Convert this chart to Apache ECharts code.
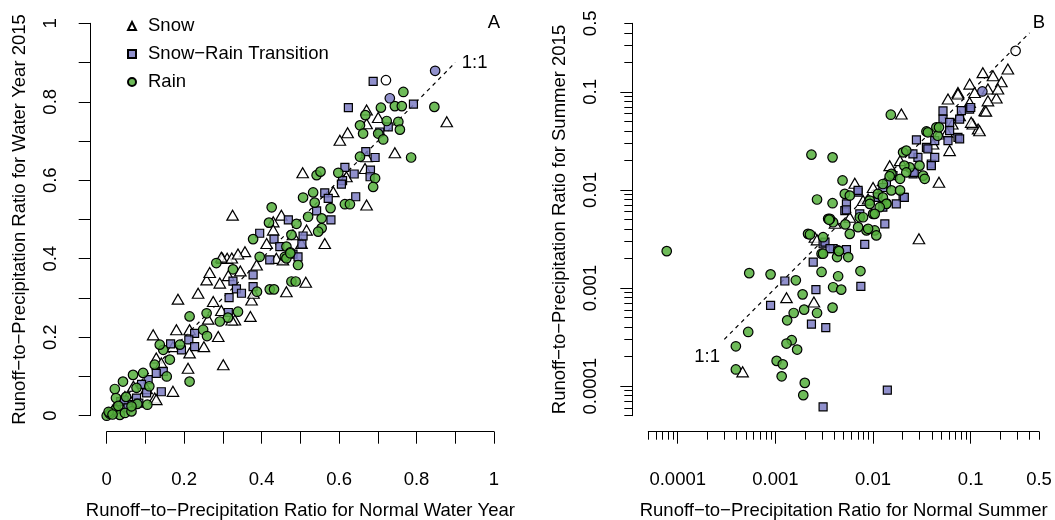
<!DOCTYPE html>
<html>
<head>
<meta charset="utf-8">
<script src="https://cdn.jsdelivr.net/npm/echarts@6/dist/echarts.min.js"></script>
<style>html,body{margin:0;padding:0;background:#fff}#c{width:1055px;height:520px}</style>
</head>
<body>
<div id="c"></div>
<script>
// ---------- Panel A: water year (linear axes) ----------
const snowA = [[0.878,0.749],[0.744,0.670],[0.671,0.779],[0.701,0.760],[0.622,0.721],[0.602,0.702],[0.671,0.537],[0.506,0.619],[0.667,0.630],[0.671,0.660],[0.619,0.609],[0.585,0.571],[0.563,0.439],[0.325,0.511],[0.430,0.494],[0.451,0.511],[0.430,0.473],[0.516,0.473],[0.413,0.439],[0.357,0.418],[0.671,0.744],[0.503,0.439],[0.481,0.461],[0.299,0.401],[0.311,0.401],[0.514,0.340],[0.464,0.316],[0.374,0.295],[0.371,0.253],[0.331,0.244],[0.301,0.130],[0.288,0.202],[0.251,0.176],[0.210,0.121],[0.214,0.160],[0.184,0.297],[0.236,0.312],[0.258,0.346],[0.266,0.365],[0.292,0.338],[0.314,0.357],[0.275,0.291],[0.296,0.268],[0.323,0.244],[0.120,0.206],[0.180,0.219],[0.171,0.062],[0.124,0.045],[0.296,0.404],[0.323,0.402],[0.339,0.412],[0.438,0.401],[0.455,0.397],[0.387,0.384],[0.345,0.369],[0.379,0.312],[0.262,0.246],[0.214,0.219],[0.171,0.176],[0.047,0.049],[0.069,0.075],[0.103,0.069],[0.128,0.147],[0.141,0.134],[0.128,0.041],[0.055,0.049],[0.020,0.020],[0.035,0.030]];
const transA = [[0.688,0.852],[0.624,0.785],[0.792,0.794],[0.727,0.736],[0.705,0.723],[0.669,0.673],[0.693,0.658],[0.615,0.633],[0.639,0.616],[0.681,0.626],[0.680,0.609],[0.609,0.599],[0.606,0.590],[0.643,0.558],[0.563,0.568],[0.572,0.554],[0.542,0.522],[0.579,0.499],[0.469,0.499],[0.395,0.465],[0.432,0.450],[0.447,0.431],[0.507,0.458],[0.504,0.437],[0.473,0.414],[0.481,0.412],[0.494,0.405],[0.378,0.359],[0.378,0.329],[0.326,0.343],[0.335,0.323],[0.348,0.312],[0.316,0.301],[0.314,0.263],[0.227,0.210],[0.212,0.193],[0.227,0.176],[0.193,0.168],[0.165,0.183],[0.146,0.113],[0.128,0.108],[0.107,0.092],[0.103,0.058],[0.141,0.061],[0.077,0.045],[0.064,0.028],[0.083,0.032],[0.025,0.017],[0.036,0.036],[0.421,0.397],[0.045,0.040],[0.055,0.020],[0.012,0.008],[0.090,0.080]];
const rainA = [[0.766,0.825],[0.846,0.787],[0.708,0.785],[0.744,0.789],[0.762,0.789],[0.668,0.766],[0.654,0.740],[0.662,0.719],[0.723,0.751],[0.753,0.749],[0.757,0.729],[0.701,0.719],[0.714,0.704],[0.786,0.658],[0.654,0.660],[0.542,0.613],[0.552,0.622],[0.598,0.619],[0.693,0.605],[0.688,0.583],[0.533,0.569],[0.507,0.556],[0.537,0.543],[0.615,0.539],[0.578,0.529],[0.426,0.531],[0.520,0.507],[0.555,0.503],[0.419,0.492],[0.490,0.489],[0.555,0.478],[0.546,0.469],[0.378,0.450],[0.477,0.461],[0.464,0.431],[0.474,0.416],[0.460,0.405],[0.494,0.384],[0.477,0.342],[0.421,0.322],[0.388,0.316],[0.339,0.265],[0.313,0.250],[0.292,0.240],[0.258,0.261],[0.249,0.219],[0.259,0.203],[0.214,0.253],[0.189,0.181],[0.146,0.168],[0.137,0.181],[0.163,0.143],[0.124,0.130],[0.214,0.087],[0.094,0.109],[0.068,0.104],[0.042,0.087],[0.021,0.068],[0.024,0.045],[0.050,0.048],[0.077,0.071],[0.079,0.030],[0.105,0.028],[0.000,0.000],[0.008,0.005],[0.021,0.014],[0.034,0.002],[0.047,0.007],[0.064,0.011],[0.064,0.024],[0.283,0.389],[0.326,0.373],[0.395,0.405],[0.464,0.401],[0.474,0.414],[0.488,0.342],[0.432,0.322],[0.628,0.539],[0.005,0.010],[0.015,0.003],[0.030,0.025],[0.110,0.075],[0.155,0.100]];
const openA = [[0.721,0.855]];
const lavCircA = [[0.848,0.879],[0.731,0.809]];
const oneToOneA = [[0, 0], [0.9, 0.9]];
const tickValsA = [0,0.1,0.2,0.3,0.4,0.5,0.6,0.7,0.8,0.9,1];
const labelValsA = [0,0.2,0.4,0.6,0.8,1];

// ---------- Panel B: summer (log axes) ----------
const snowB = [[0.240,0.171],[0.133,0.157],[0.169,0.146],[0.206,0.127],[0.150,0.107],[0.183,0.0865],[0.139,0.0643],[0.119,0.0419],[0.0975,0.120],[0.074,0.0986],[0.0585,0.0845],[0.0975,0.078],[0.105,0.047],[0.0195,0.0594],[0.0295,0.00318],[0.0473,0.012],[0.0608,0.0252],[0.0065,0.0117],[0.00254,0.0033],[0.0148,0.0177],[0.0079,0.0078],[0.00578,0.00527],[0.0013,0.000798],[0.00248,0.000721],[0.000462,0.00014],[0.19,0.107],[0.150,0.081],[0.143,0.0636],[0.123,0.0402],[0.101,0.0489],[0.074,0.095],[0.1096,0.0986],[0.077,0.0571],[0.0648,0.047],[0.0571,0.0387],[0.0189,0.0199],[0.0473,0.0372],[0.0411,0.0294],[0.01,0.0106],[0.0089,0.0081],[0.00408,0.00458],[0.00267,0.0031]];
const transB = [[0.0975,0.0668],[0.052,0.0528],[0.074,0.0344],[0.0585,0.0318],[0.0278,0.0324],[0.0352,0.0272],[0.0288,0.0215],[0.0395,0.0184],[0.0257,0.0146],[0.0203,0.0084],[0.0137,0.0115],[0.00703,0.0095],[0.00514,0.00617],[0.0126,0.00667],[0.0132,0.00452],[0.00308,0.00283],[0.0039,0.00252],[0.052,0.064],[0.00244,0.00184],[0.00125,0.00118],[0.0026,0.000964],[0.000893,0.000667],[0.00234,0.000428],[0.00328,0.000395],[0.0075,0.00104],[0.014,0.000091],[0.00308,0.0000616],[0.0802,0.0643],[0.1,0.0693],[0.077,0.0528],[0.077,0.0331],[0.0608,0.0402],[0.0608,0.0489],[0.0428,0.0318],[0.0364,0.0262],[0.0256,0.0233],[0.0428,0.0215],[0.0395,0.0177],[0.0264,0.0151],[0.016,0.014],[0.0209,0.0084],[0.0173,0.00722],[0.0126,0.0106],[0.0112,0.0084],[0.00703,0.0099],[0.00534,0.00722],[0.00731,0.00571],[0.00534,0.00628],[0.00322,0.00294],[0.00362,0.00252],[0.00534,0.00246],[0.00822,0.00279]];
const rainB = [[0.0152,0.0585],[0.00234,0.0229],[0.00385,0.0215],[0.00487,0.0125],[0.00267,0.0080],[0.00385,0.00733],[0.00514,0.00912],[0.00347,0.00508],[0.0039,0.00469],[0.00216,0.00357],[0.00308,0.0033],[0.0000772,0.00238],[0.0352,0.0395],[0.0445,0.0435],[0.0459,0.0357],[0.0325,0.014],[0.0203,0.0242],[0.0237,0.017],[0.0154,0.0146],[0.0126,0.0115],[0.0112,0.00912],[0.00925,0.0078],[0.00731,0.00527],[0.00578,0.00357],[0.00439,0.00242],[0.00557,0.00207],[0.0104,0.00387],[0.00857,0.00387],[0.01,0.00571],[0.0137,0.0073],[0.00054,0.00142],[0.000893,0.00138],[0.00162,0.0012],[0.00297,0.00146],[0.00439,0.00132],[0.00743,0.00149],[0.0039,0.00102],[0.00472,0.000964],[0.0019,0.000863],[0.00197,0.000603],[0.00154,0.000557],[0.00267,0.000557],[0.00385,0.000632],[0.00132,0.000469],[0.000527,0.000357],[0.00147,0.000294],[0.0013,0.000272],[0.00167,0.000236],[0.000394,0.000255],[0.00103,0.000181],[0.00119,0.000167],[0.000394,0.000148],[0.00116,0.000126],[0.002,0.000108],[0.00193,0.000081],[0.00297,0.00224],[0.00428,0.00207],[0.00578,0.00877],[0.0338,0.013],[0.0364,0.0387],[0.0473,0.0435],[0.0219,0.0252],[0.0209,0.0177],[0.0299,0.0177],[0.0148,0.0138],[0.0189,0.013],[0.0219,0.0151],[0.0154,0.0099],[0.0189,0.0099],[0.0126,0.0084],[0.0137,0.00722],[0.0117,0.00667],[0.00925,0.00722],[0.0104,0.00571],[0.0079,0.00527],[0.00362,0.00508],[0.00355,0.00497],[0.00226,0.00352],[0.00308,0.00224],[0.00448,0.00238],[0.0108,0.00344],[0.0089,0.00402],[0.00703,0.00418],[0.0052,0.00446]];
const openB = [[0.288,0.262]];
const lavCircB = [[0.1315,0.101]];
const oneToOneB = [[0.0003, 0.0003], [0.4, 0.4]];
const majorTicksB = [0.0001,0.001,0.01,0.1];
const minorTicksB = [0.00005,0.00006,0.00007,0.00008,0.00009,0.0002,0.0003,0.0004,0.0005,0.0006,0.0007,0.0008,0.0009,0.002,0.003,0.004,0.005,0.006,0.007,0.008,0.009,0.02,0.03,0.04,0.05,0.06,0.07,0.08,0.09,0.2,0.3,0.4,0.5];
const labelValsB = [0.0001,0.001,0.01,0.1,0.5];

// ---------- text ----------
const legendNames = ['Snow','Snow\u2212Rain Transition','Rain'];
const xTitleA = 'Runoff\u2212to\u2212Precipitation Ratio for Normal Water Year';
const yTitleA = 'Runoff\u2212to\u2212Precipitation Ratio for Water Year 2015';
const xTitleB = 'Runoff\u2212to\u2212Precipitation Ratio for Normal Summer';
const yTitleB = 'Runoff\u2212to\u2212Precipitation Ratio for Summer 2015';
const notesAText = ['1:1', 'A'];
const notesAPos = [[0.95, 0.9], [1, 1]];
const notesBText = ['1:1', 'B'];
const notesBPos = [[0.0002, 0.0002], [0.5, 0.5]];

// ---------- styles ----------
const FONT = '"Liberation Sans", Arial, Helvetica, sans-serif';
const FS = 18.5;
const GREEN = 'rgba(85,175,60,0.85)';
const LAV = 'rgba(125,125,195,0.85)';
const WHITE = 'rgba(255,255,255,0.8)';
const lineStyleAxis = {color:'#000', width:1};

function pts(name, data, symbol, size, fill, gi) {
  return {
    type:'scatter', name, data, symbol, symbolSize:size,
    xAxisIndex: gi === 0 ? 0 : 1, yAxisIndex: gi === 0 ? 0 : 1,
    itemStyle:{color:fill, borderColor:'#000', borderWidth:1.2, opacity:1},
    clip:false, silent:true
  };
}
function dashed(data, gi) {
  return {type:'line', data, xAxisIndex: gi === 0 ? 0 : 1, yAxisIndex: gi === 0 ? 0 : 1,
    symbol:'none', silent:true, lineStyle:{color:'#000', width:1.2, type:[4,4]}, z:1};
}
function notes(pos, texts, gi) {
  return {type:'custom', data:pos, xAxisIndex: gi === 0 ? 0 : 1, yAxisIndex: gi === 0 ? 0 : 1,
    silent:true, clip:false, z:5,
    renderItem:(params, api) => {
      const p = api.coord([api.value(0), api.value(1)]);
      return {type:'text', x:p[0], y:p[1],
        style:{text:texts[params.dataIndex], fill:'#000', fontSize:FS, fontFamily:FONT,
               align:'center', verticalAlign:'middle'}};
    }};
}

const textStyle = {color:'#000', fontSize:FS, fontFamily:FONT};

const option = {
  animation:false,
  backgroundColor:'#fff',
  textStyle:{fontFamily:FONT},
  grid:[
    {left:106.7, top:23.3, width:387.3, height:392.4, outerBoundsMode:'none', containLabel:false},
    {left:648.3, top:23.3, width:390.7, height:392.4, outerBoundsMode:'none', containLabel:false}
  ],
  legend:{
    data:legendNames, orient:'vertical', left:122, top:11.5, itemGap:9,
    itemWidth:8, itemHeight:8, selectedMode:false,
    textStyle:Object.assign({lineHeight:18, padding:[0,0,0,7]}, textStyle)
  },
  xAxis:[
    {type:'value', gridIndex:0, min:0, max:1, position:'bottom', offset:16,
     axisLine:{show:true, onZero:false, lineStyle:lineStyleAxis},
     axisTick:{show:true, length:12, customValues:tickValsA, lineStyle:lineStyleAxis},
     axisLabel:Object.assign({show:true, margin:39, customValues:labelValsA, formatter:v => String(v)}, textStyle),
     splitLine:{show:false},
     name:xTitleA, nameLocation:'middle', nameGap:70, nameTextStyle:textStyle},
    {type:'log', gridIndex:1, min:0.00005, max:0.5, position:'bottom', offset:16,
     axisLine:{show:true, onZero:false, lineStyle:lineStyleAxis},
     axisTick:{show:true, length:12, customValues:majorTicksB, lineStyle:lineStyleAxis},
     axisLabel:Object.assign({show:true, margin:39, customValues:labelValsB, formatter:v => String(v)}, textStyle),
     splitLine:{show:false},
     name:xTitleB, nameLocation:'middle', nameGap:70, nameTextStyle:textStyle},
    {type:'log', gridIndex:1, min:0.00005, max:0.5, position:'bottom', offset:16,
     axisLine:{show:false},
     axisTick:{show:true, length:8, customValues:minorTicksB, lineStyle:lineStyleAxis},
     axisLabel:{show:false}, splitLine:{show:false}}
  ],
  yAxis:[
    {type:'value', gridIndex:0, min:0, max:1, position:'left', offset:16,
     axisLine:{show:true, onZero:false, lineStyle:lineStyleAxis},
     axisTick:{show:true, length:12, customValues:tickValsA, lineStyle:lineStyleAxis},
     axisLabel:Object.assign({show:true, margin:30, rotate:90, customValues:labelValsA, formatter:v => String(v)}, textStyle),
     splitLine:{show:false},
     name:yTitleA, nameLocation:'middle', nameGap:61, nameTextStyle:textStyle},
    {type:'log', gridIndex:1, min:0.00005, max:0.5, position:'left', offset:16,
     axisLine:{show:true, onZero:false, lineStyle:lineStyleAxis},
     axisTick:{show:true, length:12, customValues:majorTicksB, lineStyle:lineStyleAxis},
     axisLabel:Object.assign({show:true, margin:32, rotate:90, customValues:labelValsB, formatter:v => String(v)}, textStyle),
     splitLine:{show:false},
     name:yTitleB, nameLocation:'middle', nameGap:63, nameTextStyle:textStyle},
    {type:'log', gridIndex:1, min:0.00005, max:0.5, position:'left', offset:16,
     axisLine:{show:false},
     axisTick:{show:true, length:8, customValues:minorTicksB, lineStyle:lineStyleAxis},
     axisLabel:{show:false}, splitLine:{show:false}}
  ],
  series:[
    dashed(oneToOneA, 0),
    dashed(oneToOneB, 1),
    pts(legendNames[0], snowA, 'triangle', [11.5,10], WHITE, 0),
    pts(legendNames[1], transA, 'rect', 8, LAV, 0),
    pts(legendNames[2], rainA, 'circle', 9.5, GREEN, 0),
    pts('open', openA, 'circle', 9.5, WHITE, 0),
    pts('lavcircle', lavCircA, 'circle', 9.5, LAV, 0),
    pts(legendNames[0], snowB, 'triangle', [11.5,10], WHITE, 1),
    pts(legendNames[1], transB, 'rect', 8, LAV, 1),
    pts(legendNames[2], rainB, 'circle', 9.5, GREEN, 1),
    pts('open', openB, 'circle', 9.5, WHITE, 1),
    pts('lavcircle', lavCircB, 'circle', 9.5, LAV, 1),
    notes(notesAPos, notesAText, 0),
    notes(notesBPos, notesBText, 1)
  ]
};
const chart = echarts.init(document.getElementById('c'), null, {renderer:'canvas'});
chart.setOption(option);
</script>
</body>
</html>
